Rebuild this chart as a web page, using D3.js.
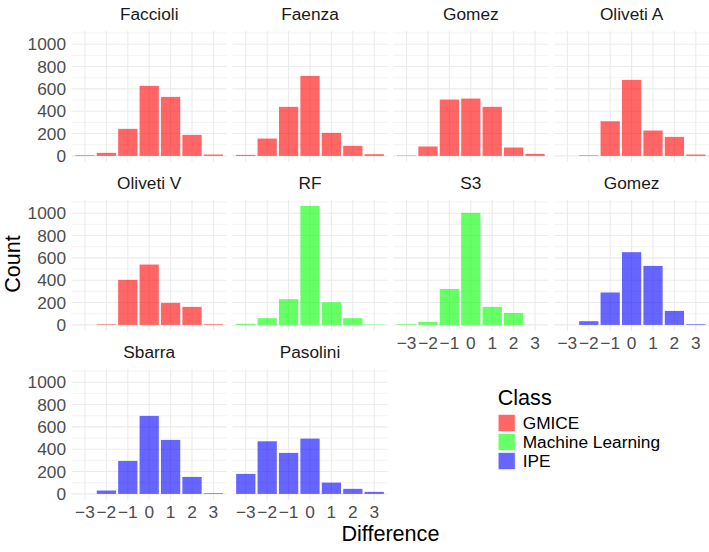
<!DOCTYPE html>
<html>
<head>
<meta charset="utf-8">
<script src="https://cdn.jsdelivr.net/npm/d3@7"></script>
<style>
  body { margin: 0; background: #fff; }
  svg { font-family: "Liberation Sans", Arial, Helvetica, sans-serif; }
</style>
</head>
<body>
<svg id="chart" width="709" height="552"></svg>
<script>
// Histogram of Difference per method, coloured by class
const diffs = [-3, -2, -1, 0, 1, 2, 3];
const panelNames = ["Faccioli", "Faenza", "Gomez", "Oliveti A", "Oliveti V", "RF", "S3", "Gomez", "Sbarra", "Pasolini"];
const panelClass = ["GMICE", "GMICE", "GMICE", "GMICE", "GMICE", "Machine Learning", "Machine Learning", "IPE", "IPE", "IPE"];
const counts = [
    [6, 27, 242, 627, 528, 188, 12],
    [9, 155, 439, 716, 206, 90, 15],
    [3, 84, 504, 513, 439, 75, 18],
    [0, 5, 310, 680, 227, 170, 12],
    [0, 5, 403, 540, 197, 161, 6],
    [9, 60, 230, 1065, 203, 60, 3],
    [6, 27, 322, 1003, 161, 107, 0],
    [0, 33, 290, 651, 528, 125, 6],
    [0, 30, 295, 698, 483, 152, 6],
    [179, 471, 367, 495, 101, 45, 18]
];
const classes = ["GMICE", "Machine Learning", "IPE"];
const classColors = ["rgba(255,0,0,0.6)", "rgba(0,255,0,0.6)", "rgba(0,0,255,0.6)"];
const yTicks = [0, 200, 400, 600, 800, 1000];
const yMinor = [100, 300, 500, 700, 900, 1100];

const svg = d3.select('#chart');
const nCols = 4;
const panelW = 155, panelH = 130.8;
const colLeft = [71.7, 232.5, 393.3, 554.1];
const rowTop = [31, 200, 369];
const smallFont = 17.3, titleFont = 21.6;

const color = d3.scaleOrdinal().domain(classes).range(classColors);
const x = d3.scaleLinear().domain([-3.62, 3.62]).range([0, panelW]);
const y = d3.scaleLinear().domain([-53, 1118]).range([panelH, 0]);

panelNames.forEach((name, i) => {
    const col = i % nCols, row = Math.floor(i / nCols);
    const g = svg.append('g').attr('transform', `translate(${colLeft[col]},${rowTop[row]})`);

    // grid
    g.selectAll('.minor').data(yMinor).enter().append('line')
        .attr('x1', 0).attr('x2', panelW)
        .attr('y1', d => y(d)).attr('y2', d => y(d))
        .attr('stroke', '#ebebeb').attr('stroke-width', 0.6);
    g.selectAll('.major').data(yTicks).enter().append('line')
        .attr('x1', 0).attr('x2', panelW)
        .attr('y1', d => y(d)).attr('y2', d => y(d))
        .attr('stroke', '#ebebeb').attr('stroke-width', 1.1);
    g.selectAll('.vgrid').data(diffs).enter().append('line')
        .attr('x1', d => x(d)).attr('x2', d => x(d))
        .attr('y1', 0).attr('y2', panelH)
        .attr('stroke', '#ebebeb').attr('stroke-width', 1.1);

    // bars (width 0.9)
    const data = diffs.map((d, j) => ({ d: d, n: counts[i][j] })).filter(v => v.n > 0);
    g.selectAll('rect').data(data).enter().append('rect')
        .attr('x', v => x(v.d - 0.45))
        .attr('width', v => x(v.d + 0.45) - x(v.d - 0.45))
        .attr('y', v => y(v.n))
        .attr('height', v => y(0) - y(v.n))
        .attr('fill', color(panelClass[i]));

    // strip title
    g.append('text')
        .attr('x', panelW / 2).attr('y', -11.5)
        .attr('text-anchor', 'middle')
        .attr('font-size', smallFont).attr('fill', '#1a1a1a')
        .text(name);

    // y axis labels on first column
    if (col === 0) {
        g.selectAll('.ylab').data(yTicks).enter().append('text')
            .attr('x', -5.7).attr('y', d => y(d))
            .attr('dy', '0.36em')
            .attr('text-anchor', 'end')
            .attr('font-size', smallFont).attr('fill', '#4d4d4d')
            .text(d => d);
    }

    // x axis labels where no panel below
    if (i + nCols >= panelNames.length) {
        g.selectAll('.xlab').data(diffs).enter().append('text')
            .attr('x', d => x(d)).attr('y', panelH + 18)
            .attr('text-anchor', 'middle')
            .attr('font-size', smallFont).attr('fill', '#4d4d4d')
            .text(d => d < 0 ? '\u2212' + Math.abs(d) : d);
    }
});

// axis titles
svg.append('text')
    .attr('x', 390.4).attr('y', 541)
    .attr('text-anchor', 'middle')
    .attr('font-size', titleFont).attr('fill', '#000')
    .text('Difference');
svg.append('text')
    .attr('transform', 'translate(20,264) rotate(-90)')
    .attr('text-anchor', 'middle')
    .attr('font-size', titleFont).attr('fill', '#000')
    .text('Count');

// legend
const legend = svg.append('g').attr('transform', 'translate(497.7,0)');
legend.append('text')
    .attr('x', 0).attr('y', 405)
    .attr('font-size', titleFont).attr('fill', '#000')
    .text('Class');
classes.forEach((c, k) => {
    const ky = 414 + k * 19;
    legend.append('rect')
        .attr('x', 0.5).attr('y', ky + 0.5)
        .attr('width', 17).attr('height', 17)
        .attr('fill', color(c))
        .attr('stroke', 'rgba(255,255,255,0.6)')
        .attr('stroke-width', 1);
    legend.append('text')
        .attr('x', 25).attr('y', ky + 9)
        .attr('dy', '0.36em')
        .attr('font-size', smallFont).attr('fill', '#000')
        .text(c);
});
</script>
</body>
</html>
